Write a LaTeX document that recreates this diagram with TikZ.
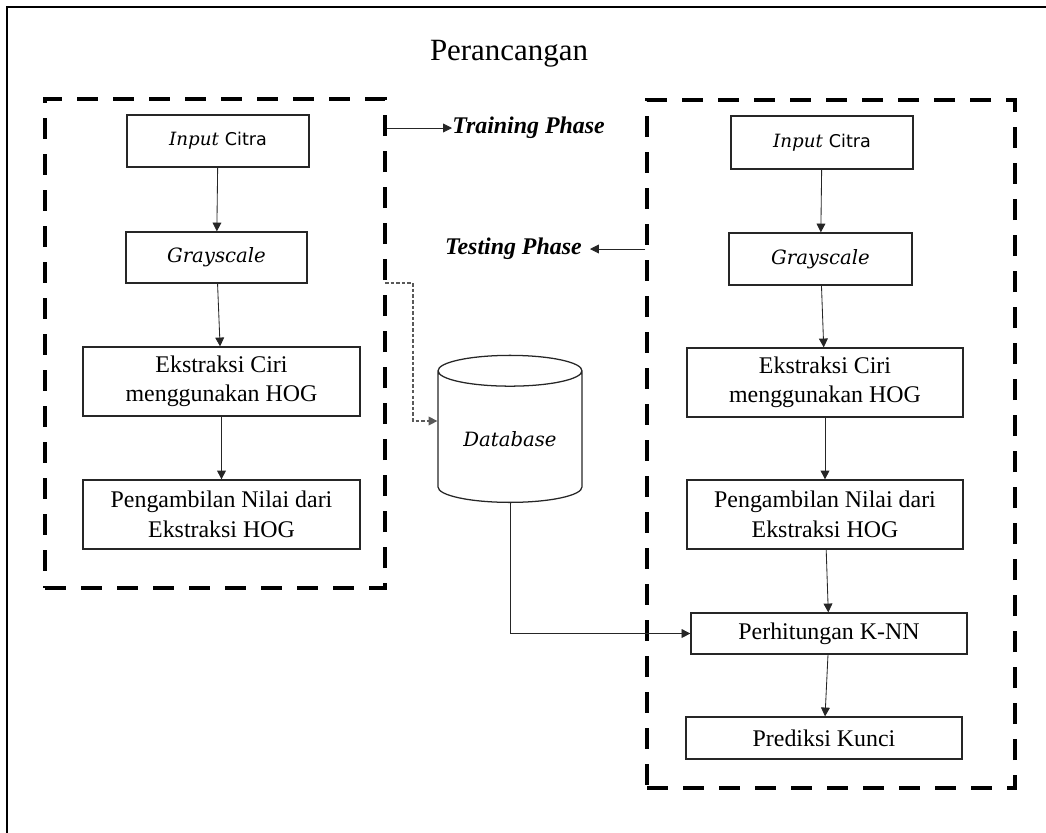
\documentclass[tikz,border=0pt]{standalone}
\usepackage{fontspec}
\setmainfont{Liberation Serif}
\newfontfamily\altserif{DejaVu Serif}
\newfontfamily\altsans{DejaVu Sans}
\usetikzlibrary{shapes.geometric,arrows.meta,positioning,calc}

% "Input Citra" mixes two faces, as in the original
\newcommand{\inputcitra}{{\altserif\itshape\fontsize{13}{15}\selectfont Input} {\altsans\fontsize{12.5}{15}\selectfont Citra}}

\begin{document}
\begin{tikzpicture}[
    block/.style={rectangle, draw=black!85, line width=0.9pt, align=center, font=\fontsize{17}{21}\selectfont, inner sep=2pt},
    phasebox/.style={rectangle, draw=black, line width=2.8pt, dash pattern=on 0.52cm off 0.38cm},
    flow/.style={-{Triangle[length=0.22cm, width=0.22cm]}, line width=0.6pt, draw=black!85},
    feed/.style={-{Triangle[length=0.22cm, width=0.22cm]}, line width=0.9pt, draw=black!65, dash pattern=on 2.5pt off 1.5pt},
    phase/.style={font=\fontsize{17}{20}\selectfont\bfseries\itshape, inner sep=0pt},
    ital/.style={font=\altserif\itshape\fontsize{14}{17}\selectfont}
]

\useasboundingbox (0,0) rectangle (26.15,-20.8);

% Outer frame (runs off the right and bottom edges)
\draw[line width=1.7pt] (0.175,-0.175) rectangle (26.6,-21.3);
\node[font=\fontsize{22}{26}\selectfont] (title) at (12.725,-1.35) {Perancangan};

% Phase frames
\node[phasebox, minimum width=8.5cm, minimum height=12.225cm] (trainbox) at (5.375,-8.5875) {};
\node[phasebox, minimum width=9.2cm, minimum height=17.2cm] (testbox) at (20.775,-11.1) {};

% Training phase
\node[block, minimum width=4.55cm, minimum height=1.3cm] (in1) at (5.45,-3.525) {\inputcitra};
\node[block, ital, minimum width=4.525cm, minimum height=1.275cm] (gray1) at (5.4125,-6.4375) {Grayscale};
\node[block, minimum width=6.925cm, minimum height=1.725cm] (ext1) at (5.5375,-9.5375) {Ekstraksi Ciri\\menggunakan HOG};
\node[block, minimum width=6.925cm, minimum height=1.725cm] (ambil1) at (5.5375,-12.8625) {Pengambilan Nilai dari\\Ekstraksi HOG};

% Testing phase
\node[block, minimum width=4.55cm, minimum height=1.325cm] (in2) at (20.55,-3.5625) {\inputcitra};
\node[block, ital, minimum width=4.575cm, minimum height=1.3cm] (gray2) at (20.5125,-6.475) {Grayscale};
\node[block, minimum width=6.9cm, minimum height=1.725cm] (ext2) at (20.625,-9.5625) {Ekstraksi Ciri\\menggunakan HOG};
\node[block, minimum width=6.9cm, minimum height=1.725cm] (ambil2) at (20.625,-12.8625) {Pengambilan Nilai dari\\Ekstraksi HOG};
\node[block, minimum width=6.9cm, minimum height=1.025cm] (knn) at (20.725,-15.8375) {Perhitungan K-NN};
\node[block, minimum width=6.9cm, minimum height=1.05cm] (pred) at (20.6,-18.45) {Prediksi Kunci};

% Database
\node[cylinder, shape border rotate=90, aspect=0.3, draw=black!85, line width=0.9pt, ital,
      minimum width=3.6cm, minimum height=3.675cm, anchor=bottom] (db) at (12.75,-12.575) {Database};

% Phase labels
\node[phase, anchor=west] (trainlbl) at (11.3,-3.2) {Training Phase};
\node[phase, anchor=east] (testlbl) at (14.55,-6.225) {Testing Phase};
\draw[flow] (trainbox.east |- trainlbl) -- (trainlbl.west);
\draw[flow] (testbox.west |- testlbl) -- ($(testlbl.east)+(0.2,0)$);

% Flow arrows
\foreach \a/\b in {in1/gray1, gray1/ext1, ext1/ambil1, in2/gray2, gray2/ext2, ext2/ambil2, ambil2/knn, knn/pred}
    \draw[flow] (\a) -- (\b);

% Features into the database, database into K-NN
\coordinate (fa) at (9.625,-7.075);
\coordinate (fb) at (10.325,-10.525);
\draw[feed] (fa) -| (fb) -- (db.west |- fb);
\draw[flow] (db.bottom) |- (knn.west);

\end{tikzpicture}
\end{document}
